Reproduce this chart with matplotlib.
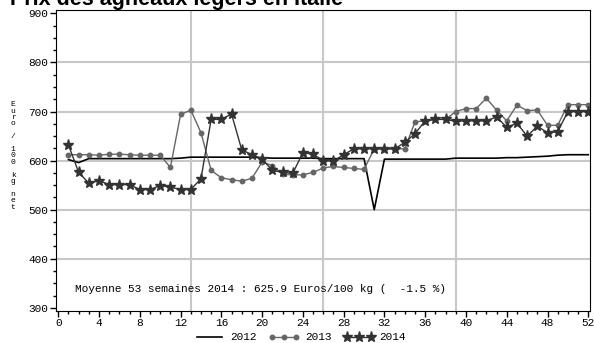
import numpy as np
import matplotlib
matplotlib.use("Agg")
import matplotlib.pyplot as plt
from matplotlib.ticker import MultipleLocator

# weekly prices, Euro / 100 kg net
weeks = list(range(1, 53))
prix_2012 = [602, 596, 604, 604, 604, 604, 604, 604, 604, 604, 604, 605, 607,
             607, 607, 607, 607, 607, 607, 606, 605, 605, 605, 605, 605, 604,
             604, 604, 604, 604, 500, 603, 603, 603, 603, 603, 603, 603, 605,
             605, 605, 605, 605, 606, 606, 607, 608, 609, 611, 612, 612, 612]
prix_2013 = [612, 612, 612, 611, 613, 613, 612, 611, 611, 611, 586, 694, 703,
             657, 580, 565, 561, 558, 564, 597, 590, 572, 571, 571, 576, 585,
             588, 586, 584, 582, 624, 624, 624, 624, 679, 681, 684, 684, 700,
             706, 706, 727, 703, 681, 713, 702, 703, 672, 672, 714, 714, 714]
prix_2014 = [632, 576, 554, 559, 551, 551, 551, 541, 541, 549, 546, 541, 541,
             563, 684, 684, 695, 622, 612, 603, 580, 576, 574, 616, 613, 600,
             599, 612, 624, 624, 624, 624, 624, 637, 655, 681, 684, 684, 680,
             681, 681, 681, 689, 668, 676, 650, 670, 657, 659, 700, 700, 700]

titre = "Prix des agneaux légers en Italie"
note = "Moyenne 53 semaines 2014 : 625.9 Euros/100 kg (  -1.5 %)"
ylab = "Euro / 100 kg net"

mono = "Liberation Mono"

fig = plt.figure(figsize=(5.94, 3.43), dpi=100)
ax = fig.add_axes([0.0938, 0.094, 0.9000, 0.877])

ax.plot(weeks, prix_2012, color="black", lw=1.2, label="2012")
ax.plot(weeks, prix_2013, color="#666666", lw=1, marker="o", ms=3.2, label="2013")
ax.plot(weeks, prix_2014, color="#333333", lw=1, marker="*", ms=8, label="2014")

ax.set_xlim(-0.25, 52.2)
ax.set_ylim(294, 907)
ax.xaxis.set_major_locator(MultipleLocator(4))
ax.xaxis.set_minor_locator(MultipleLocator(1))
ax.yaxis.set_major_locator(MultipleLocator(100))
ax.yaxis.set_minor_locator(MultipleLocator(25))
ax.tick_params(which="major", length=4, width=1, labelsize=8, pad=1.5)
ax.tick_params(which="minor", length=2, width=1)
for lab in ax.get_xticklabels() + ax.get_yticklabels():
    lab.set_fontfamily(mono)

for v in [400, 500, 600, 700, 800]:
    ax.axhline(v, color="#c8c8c8", lw=1.5, zorder=0)
for w in [13, 26, 39]:
    ax.axvline(w, color="#c8c8c8", lw=1.5, zorder=0)

ax.text(1.67, 338, note, family=mono, fontsize=8, va="center", ha="left")

# stacked vertical label
for i, ch in enumerate(ylab):
    fig.text(0.022, 0.695 - i * 0.0187, ch, family=mono, fontsize=5.8,
             ha="center", va="center")

fig.text(0.017, 0.985, titre, fontsize=15.5, fontweight="bold",
         family="Liberation Sans", ha="left", va="baseline")

fig.legend(loc="lower center", bbox_to_anchor=(0.505, -0.005), ncol=3,
           frameon=False, numpoints=3, handlelength=2.8, handletextpad=0.45,
           columnspacing=1.1, borderaxespad=0.1, borderpad=0.1,
           prop={"family": mono, "size": 8})

fig.savefig("out.png", dpi=100)
